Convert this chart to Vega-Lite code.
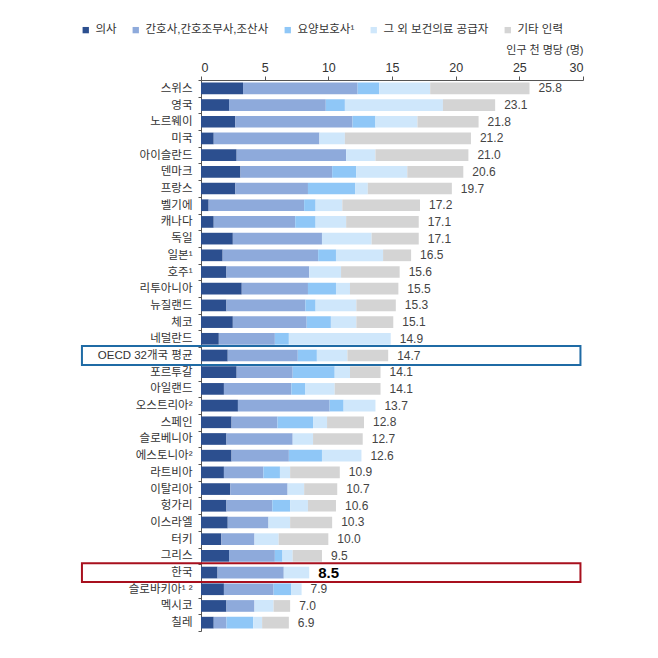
{
  "$schema": "https://vega.github.io/schema/vega-lite/v6.json",
  "width": 382,
  "height": 551,
  "autosize": {"type": "none"},
  "padding": {"left": 201, "top": 80, "right": 75, "bottom": 27},
  "background": "white",
  "config": {"font": "Liberation Sans, Noto Sans CJK KR", "view": {"stroke": null}},
  "data": {
    "values": [
      {"c": "스위스", "d": 3.3, "n": 9.0, "cw": 1.7, "ot": 4.0, "et": 7.8, "t": 25.8},
      {"c": "영국", "d": 2.2, "n": 7.6, "cw": 1.5, "ot": 7.7, "et": 4.1, "t": 23.1},
      {"c": "노르웨이", "d": 2.7, "n": 9.2, "cw": 1.8, "ot": 3.3, "et": 4.8, "t": 21.8},
      {"c": "미국", "d": 1.0, "n": 8.3, "cw": 0, "ot": 2.0, "et": 9.9, "t": 21.2},
      {"c": "아이슬란드", "d": 2.8, "n": 8.6, "cw": 0, "ot": 2.3, "et": 7.3, "t": 21.0},
      {"c": "덴마크", "d": 3.1, "n": 7.2, "cw": 1.9, "ot": 4.0, "et": 4.4, "t": 20.6},
      {"c": "프랑스", "d": 2.7, "n": 5.7, "cw": 3.7, "ot": 1.0, "et": 6.6, "t": 19.7},
      {"c": "벨기에", "d": 0.6, "n": 7.5, "cw": 0.9, "ot": 2.1, "et": 6.1, "t": 17.2},
      {"c": "캐나다", "d": 1.0, "n": 6.4, "cw": 1.6, "ot": 2.4, "et": 5.7, "t": 17.1},
      {"c": "독일", "d": 2.5, "n": 7.0, "cw": 0, "ot": 3.9, "et": 3.7, "t": 17.1},
      {"c": "일본¹", "d": 1.7, "n": 7.5, "cw": 1.4, "ot": 3.7, "et": 2.2, "t": 16.5},
      {"c": "호주¹", "d": 2.0, "n": 6.5, "cw": 0, "ot": 2.5, "et": 4.6, "t": 15.6},
      {"c": "리투아니아", "d": 3.2, "n": 5.2, "cw": 2.2, "ot": 1.1, "et": 3.8, "t": 15.5},
      {"c": "뉴질랜드", "d": 2.0, "n": 6.2, "cw": 0.8, "ot": 3.2, "et": 3.1, "t": 15.3},
      {"c": "체코", "d": 2.5, "n": 5.8, "cw": 1.9, "ot": 2.0, "et": 2.9, "t": 15.1},
      {"c": "네덜란드", "d": 1.4, "n": 4.4, "cw": 1.1, "ot": 8.0, "et": 0, "t": 14.9},
      {"c": "OECD 32개국 평균", "d": 2.1, "n": 5.5, "cw": 1.5, "ot": 2.4, "et": 3.2, "t": 14.7},
      {"c": "포르투갈", "d": 2.8, "n": 4.4, "cw": 3.3, "ot": 1.2, "et": 2.4, "t": 14.1},
      {"c": "아일랜드", "d": 1.8, "n": 5.3, "cw": 1.1, "ot": 2.3, "et": 3.6, "t": 14.1},
      {"c": "오스트리아²", "d": 2.9, "n": 7.2, "cw": 1.1, "ot": 2.5, "et": 0, "t": 13.7},
      {"c": "스페인", "d": 2.4, "n": 3.6, "cw": 2.8, "ot": 1.1, "et": 2.9, "t": 12.8},
      {"c": "슬로베니아", "d": 2.0, "n": 5.2, "cw": 0, "ot": 1.6, "et": 3.9, "t": 12.7},
      {"c": "에스토니아²", "d": 2.4, "n": 4.5, "cw": 2.6, "ot": 3.1, "et": 0, "t": 12.6},
      {"c": "라트비아", "d": 1.8, "n": 3.1, "cw": 1.3, "ot": 0.8, "et": 3.9, "t": 10.9},
      {"c": "이탈리아", "d": 2.3, "n": 4.5, "cw": 0, "ot": 1.3, "et": 2.6, "t": 10.7},
      {"c": "헝가리", "d": 2.0, "n": 3.6, "cw": 1.4, "ot": 1.4, "et": 2.2, "t": 10.6},
      {"c": "이스라엘", "d": 2.1, "n": 3.2, "cw": 0, "ot": 1.7, "et": 3.3, "t": 10.3},
      {"c": "터키", "d": 1.6, "n": 2.6, "cw": 0, "ot": 1.9, "et": 3.9, "t": 10.0},
      {"c": "그리스", "d": 2.2, "n": 3.6, "cw": 0.6, "ot": 0.8, "et": 2.3, "t": 9.5},
      {"c": "한국", "d": 1.3, "n": 5.2, "cw": 0, "ot": 2.0, "et": 0, "t": 8.5},
      {"c": "슬로바키아¹ ²", "d": 1.8, "n": 3.9, "cw": 1.4, "ot": 0.8, "et": 0, "t": 7.9},
      {"c": "멕시코", "d": 2.0, "n": 2.2, "cw": 0, "ot": 1.5, "et": 1.3, "t": 7.0},
      {"c": "칠레", "d": 1.0, "n": 1.0, "cw": 2.1, "ot": 0.7, "et": 2.1, "t": 6.9}
    ]
  },
  "encoding": {
    "y": {
      "field": "c",
      "type": "nominal",
      "sort": ["스위스","영국","노르웨이","미국","아이슬란드","덴마크","프랑스","벨기에","캐나다","독일","일본¹","호주¹","리투아니아","뉴질랜드","체코","네덜란드","OECD 32개국 평균","포르투갈","아일랜드","오스트리아²","스페인","슬로베니아","에스토니아²","라트비아","이탈리아","헝가리","이스라엘","터키","그리스","한국","슬로바키아¹ ²","멕시코","칠레"],
      "scale": {"paddingInner": 0, "paddingOuter": 0},
      "axis": {
        "title": null,
        "labelFontSize": 11.5,
        "labelColor": "#333333",
        "labelPadding": 6,
        "tickSize": 3,
        "tickBand": "extent",
        "tickColor": "#555555",
        "domainColor": "#555555"
      }
    }
  },
  "layer": [
    {
      "transform": [
        {"fold": ["d", "n", "cw", "ot", "et"], "as": ["k", "v"]},
        {"calculate": "indexof(['d','n','cw','ot','et'], datum.k)", "as": "o"}
      ],
      "mark": {"type": "bar", "height": {"band": 0.7}},
      "encoding": {
        "x": {
          "field": "v",
          "type": "quantitative",
          "stack": "zero",
          "scale": {"domain": [0, 30], "nice": false},
          "axis": {
            "orient": "top",
            "values": [0, 5, 10, 15, 20, 25, 30],
            "grid": false,
            "title": "인구 천 명당 (명)",
            "titleAnchor": "end",
            "titleFontWeight": "normal",
            "titleFontSize": 11,
            "titleColor": "#333333",
            "titlePadding": 6,
            "labelFontSize": 12.5,
            "labelColor": "#333333",
            "labelPadding": 2,
            "tickSize": 4,
            "tickColor": "#555555",
            "domainColor": "#555555"
          }
        },
        "color": {
          "field": "k",
          "type": "nominal",
          "scale": {"domain": ["d", "n", "cw", "ot", "et"], "range": ["#2c4f8f", "#8eaadb", "#8fc7f7", "#cfe7fb", "#d4d4d4"]},
          "legend": {
            "orient": "none",
            "legendX": -121,
            "legendY": -56,
            "direction": "horizontal",
            "title": null,
            "symbolType": "square",
            "symbolSize": 40,
            "symbolStrokeWidth": 0,
            "labelFontSize": 11.5,
            "labelColor": "#333333",
            "columnPadding": 13,
            "labelExpr": "{'d':'의사','n':'간호사,간호조무사,조산사','cw':'요양보호사¹','ot':'그 외 보건의료 공급자','et':'기타 인력'}[datum.label]"
          }
        },
        "order": {"field": "o", "type": "quantitative"}
      }
    },
    {
      "transform": [{"filter": "datum.c !== '한국'"}],
      "mark": {"type": "text", "align": "left", "baseline": "middle", "dx": 9, "fontSize": 12, "color": "#444444"},
      "encoding": {
        "x": {"field": "t", "type": "quantitative"},
        "text": {"field": "t", "type": "quantitative", "format": ".1f"}
      }
    },
    {
      "transform": [{"filter": "datum.c === '한국'"}],
      "mark": {"type": "text", "align": "left", "baseline": "middle", "dx": 9, "fontSize": 15, "fontWeight": "bold", "color": "#000000"},
      "encoding": {
        "x": {"field": "t", "type": "quantitative"},
        "text": {"field": "t", "type": "quantitative", "format": ".1f"}
      }
    },
    {
      "data": {"values": [{"c": "OECD 32개국 평균", "h": "oecd"}, {"c": "한국", "h": "kor"}]},
      "mark": {"type": "bar", "fill": "white", "fillOpacity": 0, "strokeWidth": 2, "height": {"band": 1.13}},
      "encoding": {
        "x": {"datum": -9.35, "type": "quantitative", "scale": {"domain": [0, 30], "nice": false}},
        "x2": {"datum": 29.8},
        "stroke": {"field": "h", "type": "nominal", "scale": {"domain": ["oecd", "kor"], "range": ["#1f6ba5", "#a8101e"]}, "legend": null}
      }
    }
  ]
}
